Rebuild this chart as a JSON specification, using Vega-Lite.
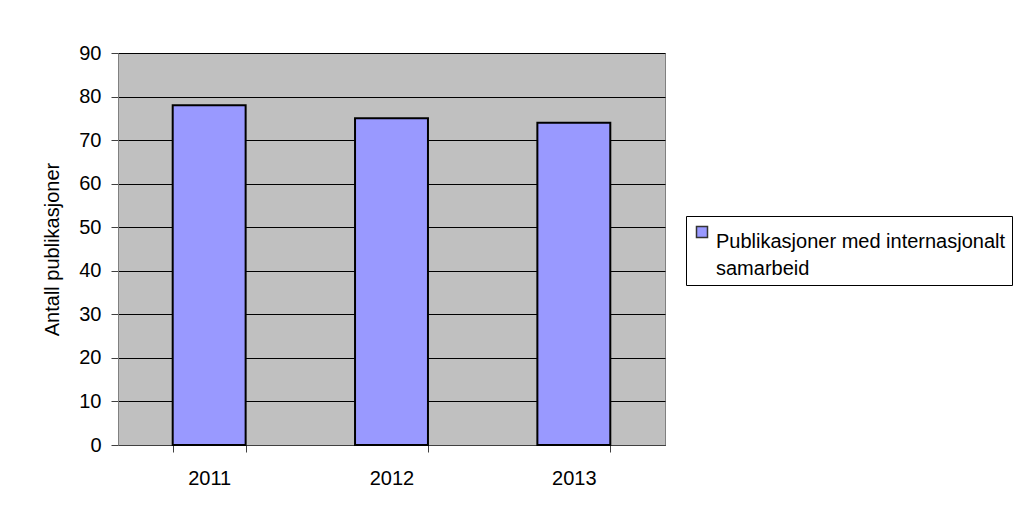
{
  "$schema": "https://vega.github.io/schema/vega-lite/v6.json",
  "width": 547,
  "height": 392,
  "autosize": "none",
  "padding": {"left": 118, "top": 53, "right": 355, "bottom": 68},
  "background": "white",
  "data": {"values": [
    {"year": "2011", "antall": 78, "serie": "Publikasjoner med internasjonalt samarbeid"},
    {"year": "2012", "antall": 75, "serie": "Publikasjoner med internasjonalt samarbeid"},
    {"year": "2013", "antall": 74, "serie": "Publikasjoner med internasjonalt samarbeid"}
  ]},
  "mark": {"type": "bar", "stroke": "black", "strokeWidth": 2},
  "encoding": {
    "x": {
      "field": "year", "type": "nominal",
      "scale": {"paddingInner": 0.6, "paddingOuter": 0.3},
      "axis": {
        "title": null, "labelAngle": 0, "tickBand": "extent",
        "labelFontSize": 20, "labelPadding": 16, "tickSize": 7,
        "tickColor": "#404040", "domainColor": "#404040", "labelColor": "black"
      }
    },
    "y": {
      "field": "antall", "type": "quantitative",
      "scale": {"domain": [0, 90]},
      "axis": {
        "title": "Antall publikasjoner", "values": [0,10,20,30,40,50,60,70,80,90],
        "labelFontSize": 20, "labelPadding": 10, "tickSize": 7,
        "titleFontSize": 20, "titleFontWeight": "normal", "titlePadding": 16,
        "gridColor": "black", "gridOpacity": 1, "gridWidth": 1,
        "tickColor": "#404040", "domainColor": "#808080", "labelColor": "black", "titleColor": "black"
      }
    },
    "fill": {
      "field": "serie", "type": "nominal",
      "scale": {"range": ["#9999FF"]},
      "legend": {
        "title": null, "orient": "none", "legendX": 568, "legendY": 163,
        "strokeColor": "black", "fillColor": "white", "padding": 6,
        "symbolType": "square", "symbolSize": 121, "symbolStrokeColor": "#333333", "symbolStrokeWidth": 1.5,
        "labelFontSize": 20, "labelColor": "black", "labelLimit": 400,
        "labelExpr": "['Publikasjoner med internasjonalt', 'samarbeid']",
        "labelBaseline": "top", "labelOffset": 4
      }
    }
  },
  "config": {
    "font": "Liberation Sans",
    "view": {"fill": "#C0C0C0", "stroke": "#808080", "strokeWidth": 1},
    "style": {"guide-label": {"lineHeight": 27}}
  }
}
